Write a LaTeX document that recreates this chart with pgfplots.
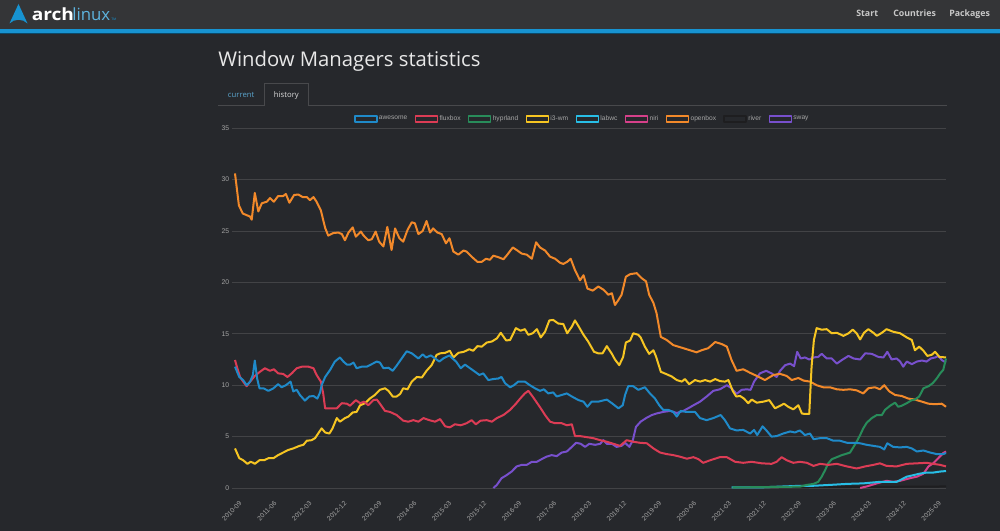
\documentclass[border=0pt]{standalone}
\usepackage{fontspec}
\setmainfont{Liberation Sans}
\newfontfamily\opensans{Open Sans}
\usepackage{pgfplots}
\pgfplotsset{compat=1.18}

\definecolor{bodybg}{RGB}{38,40,44}
\definecolor{headbg}{RGB}{52,53,55}
\definecolor{archblue}{RGB}{23,147,209}
\definecolor{gridc}{RGB}{66,67,70}
\definecolor{ticktext}{RGB}{165,165,165}
\definecolor{navtext}{RGB}{200,200,200}
\definecolor{titletext}{RGB}{232,232,232}
\definecolor{tabline}{RGB}{72,73,76}
\definecolor{tabblue}{RGB}{90,165,205}
\definecolor{tabtext}{RGB}{220,220,220}
\definecolor{cawesome}{RGB}{31,138,201}
\definecolor{cfluxbox}{RGB}{220,60,85}
\definecolor{chyprland}{RGB}{40,140,90}
\definecolor{ci3}{RGB}{246,197,34}
\definecolor{clabwc}{RGB}{40,190,230}
\definecolor{cniri}{RGB}{214,64,138}
\definecolor{copenbox}{RGB}{242,137,42}
\definecolor{criver}{RGB}{30,30,32}
\definecolor{csway}{RGB}{120,80,205}

\begin{document}
\begin{tikzpicture}
\begin{scope}[x=0.75pt,y=-0.75pt]
\fill[bodybg] (0,0) rectangle (1000,531);
\fill[headbg] (0,0) rectangle (1000,29.5);
\fill[archblue] (0,29.5) rectangle (1000,33);
\fill[archblue!50!black] (0,33) rectangle (1000,34.5);
% logo
\fill[archblue] (18.5,4) -- (27.5,23.5) .. controls (23,18.5) and (14,18.5) .. (9.5,23.5) -- cycle;
\node[anchor=base west, inner sep=0pt, text=white, font=\opensans\bfseries\fontsize{12.6}{14}\selectfont] at (31.5,20.7) {\scalebox{1.14}[1]{arch}};
\node[anchor=base west, inner sep=0pt, text=archblue!70!white, font=\opensans\fontsize{12.6}{14}\selectfont] at (72,20.7) {linux};
\node[anchor=base west, inner sep=0pt, text=archblue, font=\fontsize{2.5}{3}\selectfont] at (111,20.5) {TM};
% nav
\node[anchor=base west, inner sep=0pt, text=navtext, font=\opensans\bfseries\fontsize{6.6}{8}\selectfont] at (856,16.5) {Start};
\node[anchor=base west, inner sep=0pt, text=navtext, font=\opensans\bfseries\fontsize{6.6}{8}\selectfont] at (893,16.5) {Countries};
\node[anchor=base west, inner sep=0pt, text=navtext, font=\opensans\bfseries\fontsize{6.6}{8}\selectfont] at (949,16.5) {Packages};
% title
\node[anchor=base west, inner sep=0pt, text=titletext, font=\opensans\fontsize{15.2}{18}\selectfont] at (218,66.7) {Window Managers statistics};
% tabs
\draw[tabline, line width=0.75pt] (218,106) -- (264.3,106);
\draw[tabline, line width=0.75pt] (308.3,106) -- (947,106);
\draw[tabline, line width=0.75pt] (264.3,106) -- (264.3,83.3) -- (308.3,83.3) -- (308.3,106);
\node[anchor=base west, inner sep=0pt, text=tabblue, font=\opensans\fontsize{5.8}{7}\selectfont] at (227.7,97.3) {current};
\node[anchor=base west, inner sep=0pt, text=tabtext, font=\opensans\fontsize{5.8}{7}\selectfont] at (273.7,97.3) {history};
\end{scope}

\begin{axis}[
  at={(176.25pt,-366pt)}, anchor=south west,
  scale only axis, width=533.25pt, height=269.85pt,
  xmin=0, xmax=183, ymin=0, ymax=35, clip=false,
  axis line style={draw=none},
  ymajorgrids, grid style={draw=gridc, line width=0.75pt},
  ytick={0,5,...,35}, yticklabels={0,5,10,15,20,25,30,35},
  xtick={0,9,...,180},
  xticklabels={2010-09,2011-06,2012-03,2012-12,2013-09,2014-06,2015-03,2015-12,2016-09,2017-06,2018-03,2018-12,2019-09,2020-06,2021-03,2021-12,2022-09,2023-06,2024-03,2024-12,2025-09},
  tick pos=left, tick align=outside, major tick length=2.25pt,
  xtick style={draw=none}, ytick style={draw=gridc, line width=0.75pt},
  yticklabel style={font=\fontsize{5.1}{6}\selectfont, text=ticktext, anchor=east, inner sep=0pt, xshift=-2pt},
  xticklabel style={font=\fontsize{5}{5.5}\selectfont, text=ticktext, rotate=45, anchor=north east, inner sep=0pt, yshift=-7pt, xshift=-3pt},
  every axis plot/.append style={line width=1.5pt, line join=round, mark=none},
  legend columns=9, reverse legend,
  legend style={at={(0.488,1.0256)}, anchor=center, draw=none, fill=none,
    font=\fontsize{5}{6}\selectfont, text=ticktext,
    nodes={inner sep=1pt},
    /tikz/every even column/.append style={column sep=4.5pt}},
  legend image code/.code={\draw[#1, line width=1.1pt] (0pt,-2.1pt) rectangle (16.5pt,2.1pt);},
]
% sway
\addplot[color=csway] coordinates {(66.5,0)(67.4,0.3)(68.6,0.95)(69.9,1.25)(71.2,1.6)(72.5,2.1)(73.8,2.25)(75.1,2.25)(76.4,2.55)(77.7,2.55)(78.9,2.8)(80.2,3.05)(81.5,3.2)(82.8,3.1)(84.1,3.45)(85.4,3.55)(86.7,4.0)(87.8,4.4)(89.0,4.3)(90.1,4.0)(91.2,4.3)(92.7,4.2)(94.0,4.3)(94.8,4.65)(95.7,4.3)(97.0,4.3)(98.2,4.0)(99.5,4.1)(100.4,4.4)(101.5,4.0)(102.4,4.65)(103.2,5.95)(104.4,6.45)(105.8,6.8)(107.3,7.1)(108.5,7.25)(110.2,7.4)(112.0,7.5)(113.7,7.3)(115.4,7.5)(117.1,7.85)(118.0,8.05)(119.7,8.4)(121.4,8.9)(123.1,9.45)(124.8,9.6)(126.6,10.0)(127.8,9.7)(129.1,9.15)(130.4,9.55)(131.7,9.6)(132.7,9.55)(133.6,10.35)(135.1,11.15)(136.7,11.4)(138.1,11.15)(139.4,10.8)(140.3,11.4)(141.6,11.95)(142.9,12.1)(143.9,11.85)(144.7,13.25)(145.6,12.6)(146.7,12.7)(147.8,12.5)(148.9,12.7)(150.1,12.75)(151.0,13.05)(152.3,12.6)(153.6,12.6)(154.9,12.1)(156.2,12.45)(157.9,12.85)(159.2,12.6)(160.9,12.5)(162.2,13.1)(163.9,13.05)(165.6,12.75)(166.9,12.7)(167.9,13.25)(169.0,12.5)(170.3,12.6)(171.2,12.3)(172.0,11.8)(172.9,12.3)(174.2,12.05)(175.5,12.3)(176.8,12.4)(178.0,12.3)(179.1,12.6)(180.2,12.7)(181.0,12.85)(181.9,12.45)(183.0,12.2)};
\addlegendentry{sway}
% river
\addplot[color=criver] coordinates {(140,0.05)(150,0.08)(160,0.1)(170,0.12)(183,0.15)};
\addlegendentry{river}
% openbox
\addplot[color=copenbox] coordinates {(0,30.6)(1.0,27.5)(2.0,26.7)(3.9,26.4)(4.3,26.1)(5.1,28.7)(6.0,26.9)(6.9,27.7)(8.2,27.85)(9.0,28.2)(10.0,27.85)(11.1,28.4)(12.4,28.4)(13.1,28.6)(14.0,27.75)(15.2,28.5)(16.3,28.55)(17.4,28.3)(18.5,28.3)(19.3,28.0)(20.2,28.3)(21.0,27.85)(22.1,27.0)(23.2,25.3)(24.0,24.55)(25.3,24.8)(26.6,24.85)(27.5,24.7)(28.3,24.1)(29.2,24.85)(30.3,25.35)(31.1,24.45)(32.4,24.95)(33.0,24.6)(34.3,24.1)(35.2,24.2)(36.2,24.95)(37.1,23.96)(38.2,23.5)(39.2,25.4)(40.3,23.15)(41.2,25.25)(42.3,24.3)(43.3,23.96)(44.4,25.1)(45.5,25.85)(46.3,25.75)(47.2,24.7)(48.3,25.0)(49.3,25.97)(50.2,24.85)(51.0,25.25)(52.1,24.85)(53.2,24.7)(54.3,23.8)(55.2,24.3)(56.2,23.0)(57.5,22.7)(58.8,23.1)(59.6,23.0)(60.9,22.5)(62.4,22.0)(63.5,22.0)(64.6,22.3)(65.6,22.2)(66.5,22.6)(67.8,22.45)(69.1,22.25)(70.1,22.7)(71.5,23.4)(72.5,23.15)(73.8,22.8)(75.1,22.7)(76.4,22.3)(77.5,23.9)(78.5,23.4)(79.8,23.1)(81.1,22.5)(82.4,22.3)(83.7,21.9)(84.5,21.8)(85.5,22.0)(86.4,22.3)(87.5,21.2)(88.8,20.2)(89.7,20.7)(90.7,19.4)(92.1,19.2)(93.5,19.6)(94.8,19.3)(96.1,18.8)(97.0,18.95)(97.8,17.8)(98.7,18.3)(99.5,18.8)(100.6,20.55)(101.7,20.8)(103.4,20.9)(104.7,20.4)(105.8,20.1)(106.6,18.8)(107.7,18.0)(108.5,17.0)(109.6,14.7)(111.1,14.4)(112.8,13.9)(115.4,13.6)(117.1,13.4)(118.8,13.2)(120.1,13.4)(121.8,13.6)(123.6,14.2)(125.3,14.0)(126.6,13.75)(127.8,12.45)(129.1,11.4)(130.8,11.55)(132.6,11.2)(134.3,10.9)(136.4,10.5)(138.6,11.0)(140.3,11.1)(142.0,10.9)(143.3,10.5)(145.0,10.7)(146.3,10.45)(148.0,10.35)(149.7,10.0)(151.4,9.8)(153.1,9.8)(154.9,9.6)(156.6,9.55)(158.3,9.6)(160.0,9.5)(161.7,9.2)(163.0,9.7)(164.7,9.8)(166.0,9.6)(167.1,10.0)(168.4,9.4)(169.9,9.05)(171.6,8.95)(173.3,8.7)(175.0,8.6)(176.8,8.4)(178.5,8.2)(180.2,8.15)(181.9,8.2)(183.0,7.9)};
\addlegendentry{openbox}
% niri
\addplot[color=cniri] coordinates {(160.9,0)(162.6,0.15)(165.2,0.45)(167.7,0.7)(169.4,0.6)(171.2,0.7)(173.7,0.95)(175.5,1.1)(177.2,1.4)(178.5,2.1)(179.7,2.4)(181.0,2.9)(182.3,3.4)(183.0,3.55)};
\addlegendentry{niri}
% labwc
\addplot[color=clabwc] coordinates {(127.8,0.07)(136,0.07)(144.5,0.2)(148,0.2)(153.1,0.3)(157.5,0.4)(161.7,0.45)(166.0,0.6)(170.3,0.6)(172.9,1.1)(174.6,1.25)(176.3,1.4)(178.0,1.5)(179.7,1.5)(181.5,1.6)(183.0,1.65)};
\addlegendentry{labwc}
% i3-wm
\addplot[color=ci3] coordinates {(0,3.85)(1.1,2.9)(2.1,2.7)(3.2,2.35)(4.0,2.55)(4.7,2.45)(5.1,2.35)(6.3,2.7)(7.5,2.7)(8.6,2.9)(9.9,2.9)(11.1,3.2)(12.4,3.45)(13.7,3.7)(15.0,3.85)(16.6,4.1)(17.6,4.2)(18.5,4.6)(19.7,4.65)(20.6,4.85)(21.4,5.3)(22.3,5.8)(23.2,5.4)(24.3,5.3)(25.1,5.8)(26.2,6.8)(27.0,6.45)(28.3,6.8)(29.2,6.95)(30.3,7.35)(31.3,7.4)(32.2,8.05)(33.5,8.25)(34.7,8.7)(36.0,9.05)(37.3,9.55)(38.6,9.7)(39.5,9.45)(40.6,8.9)(41.6,8.9)(42.5,9.15)(43.3,9.7)(44.4,9.6)(45.5,10.35)(46.8,10.8)(48.1,10.75)(49.3,11.4)(50.6,11.95)(51.9,12.95)(52.8,13.1)(54.1,13.15)(55.3,13.35)(56.2,12.7)(57.5,13.15)(58.9,13.25)(60.3,13.5)(61.3,13.35)(62.4,13.8)(63.5,13.75)(64.8,14.15)(66.1,14.25)(67.4,14.55)(68.4,15.1)(69.8,14.35)(70.8,14.4)(72.3,15.55)(73.5,15.3)(74.6,15.45)(75.5,14.9)(76.6,15.05)(77.7,15.45)(78.7,14.65)(79.8,15.2)(80.9,16.3)(81.9,16.35)(83.2,16.0)(84.5,15.95)(85.5,15.05)(86.7,15.7)(87.5,16.3)(88.4,15.75)(89.7,14.9)(90.9,14.25)(92.4,13.25)(93.5,13.1)(94.6,13.1)(95.7,13.8)(97.0,13.05)(97.8,12.5)(98.9,11.95)(99.9,12.75)(100.6,14.15)(101.7,14.35)(102.5,15.05)(103.8,14.9)(104.4,14.65)(105.5,13.75)(106.6,13.05)(107.7,13.4)(108.4,12.75)(109.6,11.3)(110.9,11.1)(112.4,10.85)(113.7,10.5)(115.0,10.35)(115.8,10.6)(116.9,10.1)(118.4,10.5)(119.7,10.35)(121.0,10.5)(122.3,10.35)(123.6,10.6)(124.8,10.4)(126.1,10.35)(127.0,10.5)(128.1,9.45)(129.0,8.9)(130.0,8.95)(131.0,8.7)(132.1,8.25)(133.0,8.6)(134.3,8.3)(136.0,8.4)(137.5,8.55)(139.0,7.75)(140.3,8.0)(141.3,8.2)(142.4,7.9)(143.7,7.65)(145.0,8.05)(145.9,7.25)(146.7,7.2)(147.8,7.2)(148.4,11.8)(149.0,14.4)(149.7,15.55)(151.0,15.4)(152.3,15.45)(153.6,15.05)(154.9,15.1)(156.6,14.8)(157.9,15.05)(159.0,15.4)(160.0,15.05)(160.9,14.45)(161.9,15.1)(163.0,15.45)(164.3,15.1)(165.2,14.8)(166.5,15.1)(167.7,15.45)(169.4,15.2)(171.2,15.05)(172.9,14.65)(174.2,14.4)(175.0,13.4)(176.1,13.75)(177.2,13.35)(178.2,12.85)(179.3,12.95)(180.2,13.25)(181.3,12.75)(183.0,12.7)};
\addlegendentry{i3-wm}
% hyprland
\addplot[color=chyprland] coordinates {(128,0.05)(138,0.1)(145.4,0.13)(147.2,0.3)(148.9,0.4)(150.1,0.6)(151.0,1.1)(151.9,1.75)(152.7,2.4)(153.6,2.8)(154.9,3.0)(156.2,3.2)(157.5,3.35)(158.3,3.45)(159.2,4.0)(160.0,4.5)(160.9,5.15)(161.7,5.8)(162.6,6.35)(163.9,6.8)(165.2,7.1)(166.5,7.1)(167.3,7.6)(168.6,8.0)(169.9,8.3)(170.7,7.9)(171.6,8.0)(172.9,8.25)(174.2,8.55)(175.0,8.6)(176.1,8.9)(177.2,9.7)(178.5,9.9)(179.6,10.2)(180.6,10.65)(181.5,11.15)(182.3,11.5)(183.0,12.6)};
\addlegendentry{hyprland}
% fluxbox
\addplot[color=cfluxbox] coordinates {(0,12.45)(0.6,11.65)(1.3,10.8)(2.1,10.35)(3.0,9.9)(3.9,10.35)(5.1,10.9)(6.4,11.3)(7.7,11.65)(9.0,11.4)(10.0,11.55)(11.1,11.15)(12.4,11.1)(13.5,10.8)(14.6,11.15)(15.9,11.65)(17.2,11.8)(18.9,11.8)(20.2,11.65)(21.0,11.0)(22.1,10.35)(22.7,9.2)(23.2,7.75)(24.5,7.75)(26.2,7.75)(27.5,8.25)(28.8,8.2)(29.6,8.0)(31.1,8.55)(32.2,8.25)(33.2,8.4)(34.3,8.05)(35.6,8.55)(36.5,8.6)(37.3,8.2)(38.6,7.5)(39.9,7.4)(41.6,7.1)(43.3,6.55)(44.6,6.45)(45.9,6.6)(47.2,6.45)(48.5,6.8)(50.0,6.6)(51.5,6.45)(52.8,6.7)(54.1,6.0)(55.3,5.9)(56.6,6.2)(58.1,6.1)(59.6,6.3)(60.9,6.6)(62.0,6.2)(63.2,6.55)(64.8,6.6)(66.1,6.45)(67.4,6.8)(69.1,7.1)(70.8,7.6)(72.3,8.2)(73.4,8.7)(74.6,9.2)(75.5,9.45)(76.6,8.9)(77.7,8.3)(78.7,7.75)(79.8,7.1)(81.1,6.45)(82.4,6.3)(84.1,6.3)(85.4,6.1)(86.7,6.2)(87.5,5.05)(88.8,5.05)(90.5,4.95)(92.2,4.85)(94.0,4.65)(95.7,4.5)(97.4,4.3)(99.1,4.1)(100.8,4.65)(102.5,4.5)(104.2,4.4)(106.0,4.35)(107.7,3.85)(109.4,3.45)(111.1,3.3)(112.8,3.2)(114.5,3.05)(116.3,2.85)(118.0,3.0)(119.3,2.8)(120.5,2.45)(122.3,2.7)(124.8,3.0)(126.6,3.0)(128.7,2.55)(130.8,2.45)(133.0,2.55)(135.6,2.4)(138.1,2.35)(139.4,2.55)(140.7,3.0)(142.0,2.7)(143.7,2.45)(145.4,2.55)(147.2,2.45)(148.9,2.15)(150.6,2.35)(152.7,2.25)(154.9,2.35)(157.5,2.1)(160.0,1.9)(162.2,2.1)(164.3,2.25)(166.0,2.4)(167.7,2.15)(170.3,2.1)(172.9,2.35)(175.5,2.4)(178.0,2.45)(179.7,2.35)(181.5,2.25)(183.0,2.1)};
\addlegendentry{fluxbox}
% awesome
\addplot[color=cawesome] coordinates {(0,11.8)(1.1,10.8)(2.1,10.5)(3.0,10.0)(3.9,10.35)(4.6,11.0)(5.1,12.4)(5.7,10.65)(6.3,9.7)(7.3,9.7)(8.6,9.45)(9.9,9.7)(11.1,10.1)(12.0,9.8)(13.1,10.0)(14.3,10.35)(15.0,9.4)(15.9,9.55)(16.7,9.05)(18.0,8.5)(19.1,8.9)(20.2,8.95)(21.2,8.7)(21.9,9.3)(22.3,10.0)(23.2,10.8)(24.5,11.5)(25.7,12.3)(27.0,12.7)(27.9,12.3)(28.8,12.0)(29.6,12.0)(30.5,12.2)(31.3,11.65)(32.6,11.8)(33.9,11.8)(35.2,12.05)(36.5,12.3)(37.3,12.2)(38.2,11.65)(39.5,11.7)(40.6,11.4)(41.6,11.9)(42.9,12.6)(44.2,13.3)(45.5,13.1)(47.2,12.6)(48.3,13.0)(49.2,12.7)(50.4,12.9)(51.5,12.6)(52.6,12.3)(53.6,12.6)(55.2,12.9)(56.0,12.6)(56.9,12.3)(58.1,11.65)(59.2,12.0)(60.5,11.65)(61.8,11.3)(62.9,11.0)(63.9,11.15)(65.2,10.5)(66.5,10.6)(67.8,10.65)(68.6,10.8)(69.5,10.2)(70.8,9.8)(71.8,10.0)(72.9,10.35)(74.6,10.35)(75.9,10.0)(77.2,9.7)(78.5,9.45)(79.5,9.6)(80.6,9.2)(81.9,9.3)(82.8,8.9)(84.1,9.05)(85.4,9.2)(86.7,8.9)(88.4,8.55)(89.7,8.4)(90.7,7.9)(91.8,8.4)(93.5,8.4)(95.7,8.6)(97.0,8.25)(98.7,7.75)(99.8,8.05)(100.4,9.05)(101.2,9.9)(102.5,9.9)(103.8,9.55)(105.5,9.8)(106.8,9.2)(108.1,8.7)(109.2,8.05)(110.2,7.6)(111.5,7.6)(112.8,7.4)(113.7,6.95)(114.7,7.5)(116.1,7.4)(118.4,7.4)(119.7,6.8)(121.4,6.6)(123.1,6.8)(125.0,7.1)(126.1,6.6)(127.4,5.8)(129.1,5.6)(130.8,5.65)(132.6,5.3)(133.6,5.65)(134.4,5.15)(135.8,6.0)(137.0,5.5)(138.1,5.0)(139.4,5.05)(141.1,5.3)(142.9,5.5)(144.1,5.4)(145.4,5.6)(146.7,5.15)(148.0,5.3)(148.9,4.75)(150.6,4.85)(152.3,4.85)(154.0,4.6)(155.7,4.6)(157.5,4.4)(159.2,4.4)(160.9,4.35)(162.6,4.2)(164.3,4.1)(166.0,4.0)(167.1,3.75)(167.9,4.35)(169.4,4.0)(171.2,3.95)(172.9,4.0)(174.2,3.85)(175.5,3.55)(177.2,3.65)(178.9,3.45)(180.6,3.3)(182.3,3.3)(183.0,3.4)};
\addlegendentry{awesome}
\end{axis}
\end{tikzpicture}
\end{document}
